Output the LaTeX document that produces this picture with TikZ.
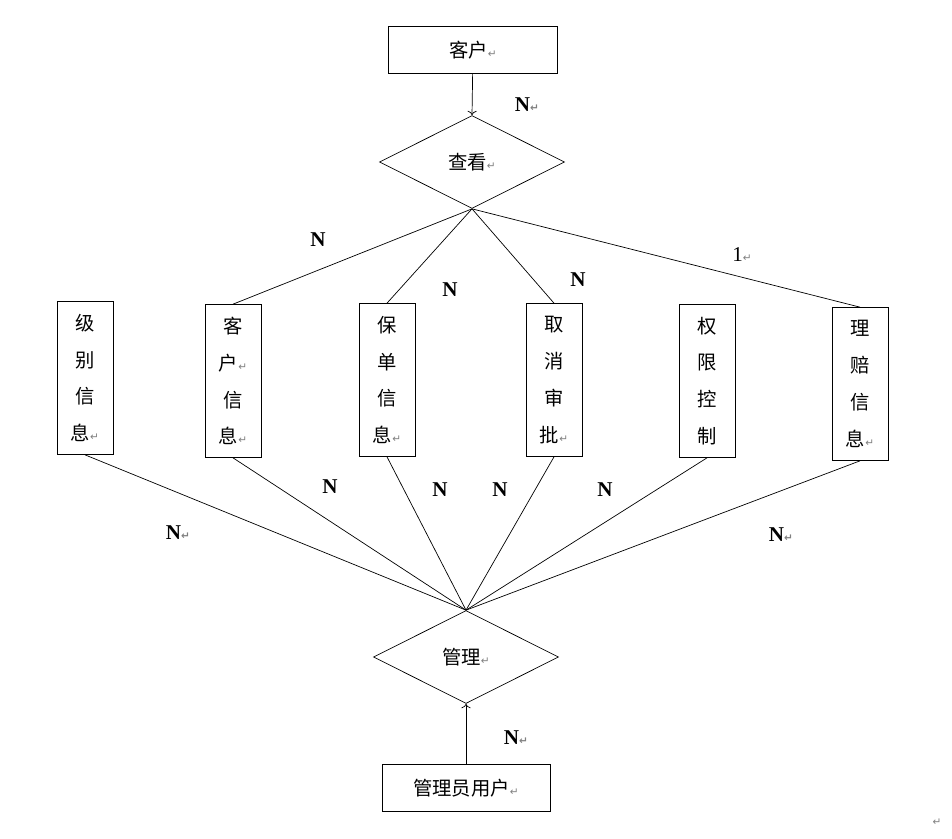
\documentclass[tikz,border=0pt]{standalone}
\usepackage{fontspec}
\setmainfont{Liberation Serif}
\newfontfamily\cjk{Noto Sans CJK SC}
\newfontfamily\dejavu{DejaVu Sans}
\usetikzlibrary{arrows.meta,shapes.geometric}
\newcommand{\ret}{{\dejavu\fontsize{6}{6}\selectfont\textcolor{gray}{↵}}}
\begin{document}
\begin{tikzpicture}[x=0.02cm,y=-0.02cm,
    hbox/.style={draw,font=\cjk\fontsize{11}{13}\selectfont,minimum width=#1,minimum height=0.93cm,inner sep=0pt},
    vbox/.style={draw,font=\cjk\fontsize{11}{21}\selectfont,align=center,minimum width=1.12cm,minimum height=3.06cm,inner sep=0pt},
    rel/.style={draw,diamond,font=\cjk\fontsize{11}{13}\selectfont,minimum width=3.7cm,minimum height=1.86cm,inner sep=0pt},
    card/.style={font=\bfseries\fontsize{12}{12}\selectfont}]
  \useasboundingbox (0,0) rectangle (952,838);
  % entities and relations
  \node[hbox=3.38cm] (kehu) at (473,50) {客户\ret};
  \node[rel] (chakan) at (472,162) {查看\ret};
  \node[vbox] (jibie) at (85,378) {级\\别\\信\\息\ret};
  \node[vbox] (khxx) at (233,381) {客\\户\ret\\信\\息\ret};
  \node[vbox] (bdxx) at (387,380) {保\\单\\信\\息\ret};
  \node[vbox] (qxsp) at (554,380) {取\\消\\审\\批\ret};
  \node[vbox] (qxkz) at (707,381) {权\\限\\控\\制};
  \node[vbox] (lpxx) at (860,384) {理\\赔\\信\\息\ret};
  \node[rel] (guanli) at (466,657) {管理\ret};
  \node[hbox=3.36cm] (admin) at (466,788) {管理员用户\ret};
  % connectors
  \draw[->] (kehu) -- (chakan.north);
  \foreach \e in {khxx,bdxx,qxsp,lpxx}
    \draw (chakan.south) -- (\e.north);
  \foreach \e in {jibie,khxx,bdxx,qxsp,qxkz,lpxx}
    \draw (guanli.north) -- (\e.south);
  \draw[->] (admin) -- (guanli.south);
  % cardinalities
  \node[card] at (527,105) {N\ret};
  \node[card] at (318,240) {N};
  \node[card] at (450,290) {N};
  \node[card] at (578,280) {N};
  \node[card,font=\fontsize{12}{12}\selectfont] at (742,255) {1\ret};
  \node[card] at (178,533) {N\ret};
  \node[card] at (330,487) {N};
  \node[card] at (440,490) {N};
  \node[card] at (500,490) {N};
  \node[card] at (605,490) {N};
  \node[card] at (781,535) {N\ret};
  \node[card] at (516,738) {N\ret};
  \node at (937,822) {\ret};
\end{tikzpicture}
\end{document}
